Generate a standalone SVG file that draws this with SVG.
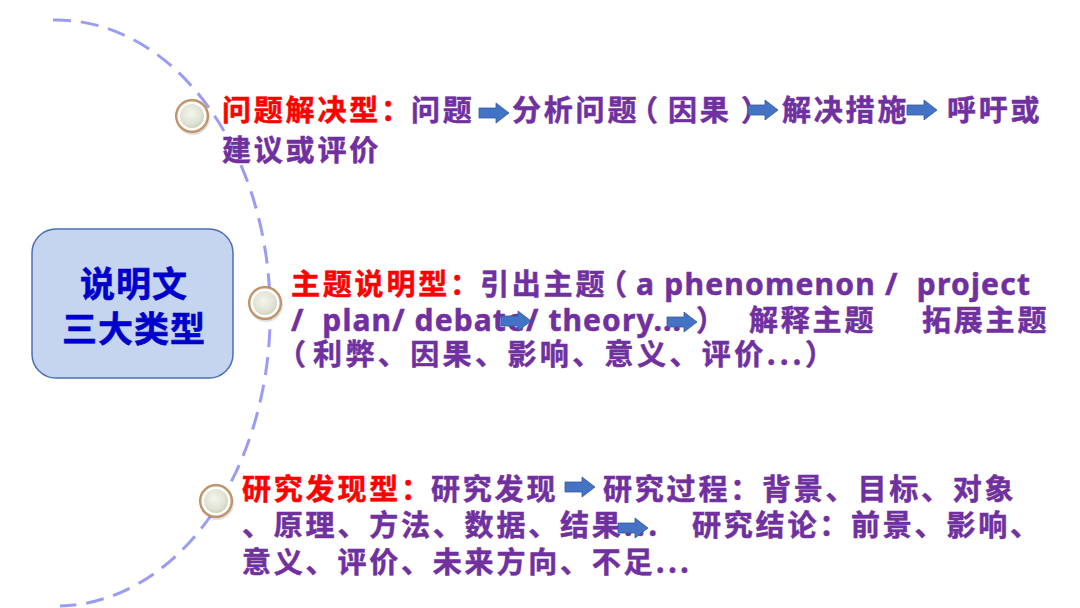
<svg xmlns="http://www.w3.org/2000/svg" xmlns:xlink="http://www.w3.org/1999/xlink" width="1080" height="608" viewBox="0 0 1080 608">
<style>
.cjk { font-family: "Noto Sans CJK SC", "Noto Sans", sans-serif; font-size: 29px; font-weight: bold; letter-spacing: 2.8px; }
.lat { font-family: "Noto Sans", "Noto Sans CJK SC", sans-serif; font-size: 30px; font-weight: bold; }
.red { fill: #ff0000; stroke: #ff0000; stroke-width: 0.5; }
.pur { fill: #7030a0; stroke: #7030a0; stroke-width: 0.5; }
.wide { letter-spacing: 3.4px; }
.title { font-family: "Noto Sans CJK SC", sans-serif; font-size: 35px; font-weight: bold; fill: #0000cc; stroke: #0000cc; stroke-width: 0.6; letter-spacing: 1px; }
.arrow { fill: #4472c4; stroke: #35589a; stroke-width: 0.8; }
.arc { fill: none; stroke: #9a9cf4; stroke-width: 3; stroke-dasharray: 18 10; }
</style>
<defs>
  <radialGradient id="dotFill" cx="0.45" cy="0.4" r="0.65">
    <stop offset="0" stop-color="#f4f5ee"/>
    <stop offset="0.7" stop-color="#dfe2d2"/>
    <stop offset="1" stop-color="#c8ccb8"/>
  </radialGradient>
  <radialGradient id="ringFill" cx="0.5" cy="0.5" r="0.5">
    <stop offset="0.8" stop-color="#d6b089"/>
    <stop offset="1" stop-color="#b5855a"/>
  </radialGradient>
  <g id="dot">
    <circle cx="1" cy="2" r="17" fill="#000" opacity="0.12"/>
    <circle r="17" fill="url(#ringFill)"/>
    <circle r="14.5" fill="#ffffff"/>
    <circle r="12" fill="url(#dotFill)"/>
  </g>
  <path id="arr" d="M0,-5 H17 V-10 L30,0 L17,10 V5 H0 Z"/>
</defs>
<rect width="1080" height="608" fill="#ffffff"/>

<g id="connectors">
  <path class="arc" d="M 53 20 A 213 292 0 0 1 60 606"/>
</g>

<g id="center">
  <rect x="32" y="229" width="201" height="149" rx="24" ry="24" fill="#c5d5ef" stroke="#4a6fb5" stroke-width="1.5"/>
  <text class="title" x="134" y="297" text-anchor="middle">说明文</text>
  <text class="title" x="134" y="342" text-anchor="middle">三大类型</text>
</g>

<g id="branch1">
  <use href="#dot" x="192" y="116"/>
  <text class="cjk red" x="222" y="121">问题解决型：</text>
  <text class="cjk pur" x="411" y="121">问题</text>
  <use href="#arr" class="arrow" x="479" y="113"/>
  <text class="cjk pur" x="512" y="121">分析问题</text>
  <text class="cjk pur" x="629" y="121">（</text>
  <text class="cjk pur" x="668" y="121">因果</text>
  <text class="cjk pur" x="741" y="121">）</text>
  <use href="#arr" class="arrow" x="748" y="110"/>
  <text class="cjk pur" x="782" y="121">解决措施</text>
  <use href="#arr" class="arrow" x="907" y="110"/>
  <text class="cjk pur" x="947" y="121">呼吁或</text>
  <text class="cjk pur" x="222" y="161">建议或评价</text>
</g>

<g id="branch2">
  <use href="#dot" x="265" y="303"/>
  <text class="cjk red" x="291" y="295">主题说明型：</text>
  <text class="cjk pur" x="480" y="295">引出主题</text>
  <text class="cjk pur" x="598" y="295">（</text>
  <text class="lat pur" x="636" y="295" xml:space="preserve" textLength="394" lengthAdjust="spacing">a phenomenon /  project</text>
  <text class="lat pur" x="291" y="331" xml:space="preserve" textLength="390" lengthAdjust="spacing">/  plan/ debate/ theory...</text>
  <text class="cjk pur" x="696" y="331">）</text>
  <text class="cjk pur" x="749" y="331">解释主题</text>
  <text class="cjk pur" x="922" y="331">拓展主题</text>
  <use href="#arr" class="arrow" x="501" y="321"/>
  <use href="#arr" class="arrow" x="667" y="322"/>
  <text class="cjk pur" x="277" y="365">（</text>
  <text class="cjk pur wide" x="313" y="365">利弊、因果、影响、意义、评价...）</text>
</g>

<g id="branch3">
  <use href="#dot" x="216" y="501"/>
  <text class="cjk red" x="242" y="500">研究发现型：</text>
  <text class="cjk pur" x="431" y="500">研究发现</text>
  <use href="#arr" class="arrow" x="565" y="487"/>
  <text class="cjk pur" x="603" y="500">研究过程：背景、目标、对象</text>
  <text class="cjk pur" x="242" y="536">、原理、方法、数据、结果...</text>
  <use href="#arr" class="arrow" x="618" y="528"/>
  <text class="cjk pur" x="692" y="536">研究结论：前景、影响、</text>
  <text class="cjk pur" x="242" y="573">意义、评价、未来方向、不足...</text>
</g>
</svg>
